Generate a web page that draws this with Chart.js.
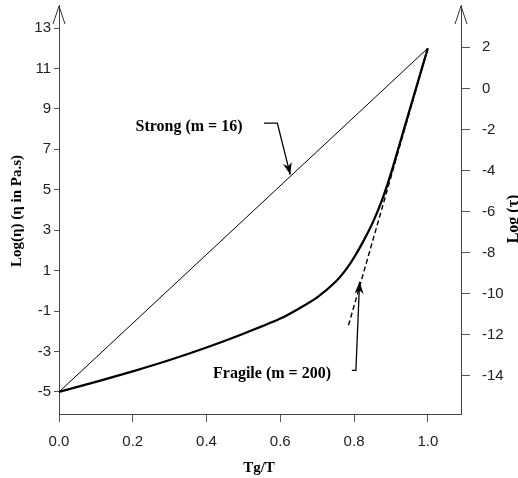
<!DOCTYPE html>
<html>
<head>
<meta charset="utf-8">
<script src="https://cdn.jsdelivr.net/npm/chart.js@4.4.1/dist/chart.umd.min.js"></script>
<style>
  html, body { margin: 0; padding: 0; background: #fff; }
  #wrap { width: 518px; height: 478px; position: relative; }
</style>
</head>
<body>
<div id="wrap"><canvas id="viscosityChart"></canvas></div>
<script>
// Tg/T positions and log(viscosity) values
const tgT = [0, 0.1, 0.2, 0.3, 0.4, 0.5, 0.6, 0.65, 0.7, 0.75, 0.78, 0.8, 0.825, 0.85, 0.875, 0.9, 0.925, 0.95, 0.975, 1.0];
const fragileLogEta = [-5, -4.5, -3.98, -3.42, -2.8, -2.12, -1.37, -0.88, -0.32, 0.45, 1.1, 1.65, 2.45, 3.35, 4.45, 5.8, 7.35, 8.9, 10.45, 12];
const strongX = [0, 1.0];
const strongLogEta = [-5, 12];
const tangentX = [0.785, 1.0];
const tangentLogEta = [-1.7, 12];

const xTicks = [0, 0.2, 0.4, 0.6, 0.8, 1.0];
const leftTicks = [13, 11, 9, 7, 5, 3, 1, -1, -3, -5];
const rightTicks = [2, 0, -2, -4, -6, -8, -10, -12, -14];

const SERIF = '"Liberation Serif", "DejaVu Serif", serif';
const SANS = '"Liberation Sans", Arial, sans-serif';

const toPts = (xs, ys) => xs.map((x, i) => ({ x, y: ys[i] }));

function arrowHead(ctx, x1, y1, x2, y2, len, half) {
  const a = Math.atan2(y2 - y1, x2 - x1);
  ctx.beginPath();
  ctx.moveTo(x2, y2);
  ctx.lineTo(x2 - len * Math.cos(a) + half * Math.sin(a), y2 - len * Math.sin(a) - half * Math.cos(a));
  ctx.lineTo(x2 - len * 0.7 * Math.cos(a), y2 - len * 0.7 * Math.sin(a));
  ctx.lineTo(x2 - len * Math.cos(a) - half * Math.sin(a), y2 - len * Math.sin(a) + half * Math.cos(a));
  ctx.closePath();
  ctx.fill();
}

// fixed scale sizes so the plot box lands where it is in the figure
function fixSize(dim, size) {
  return s => {
    s[dim] = size;
    s.paddingTop = 0;
    s.paddingBottom = 0;
    s.paddingLeft = 0;
    s.paddingRight = 0;
  };
}

const decorations = {
  id: 'decorations',
  afterDraw(chart) {
    const { ctx, chartArea, scales } = chart;
    const xs = scales.x, ys = scales.y;
    const px = v => xs.getPixelForValue(v);
    const py = v => ys.getPixelForValue(v);
    ctx.save();
    ctx.strokeStyle = '#333';
    ctx.lineWidth = 1;

    // open arrow heads on top of both vertical axes
    [chartArea.left, chartArea.right].forEach(ax => {
      ctx.beginPath();
      ctx.moveTo(ax - 6, chartArea.top + 19);
      ctx.lineTo(ax, chartArea.top + 1);
      ctx.lineTo(ax + 6, chartArea.top + 19);
      ctx.stroke();
    });

    // leader for the strong liquid
    ctx.strokeStyle = '#000';
    ctx.fillStyle = '#000';
    ctx.lineWidth = 1.3;
    ctx.beginPath();
    ctx.moveTo(px(0.556), py(8.3));
    ctx.lineTo(px(0.592), py(8.3));
    ctx.lineTo(px(0.627), py(5.75));
    ctx.stroke();
    arrowHead(ctx, px(0.592), py(8.3), px(0.627), py(5.75), 12, 4.5);

    // leader for the fragile liquid
    ctx.beginPath();
    ctx.moveTo(px(0.794), py(-3.93));
    ctx.lineTo(px(0.805), py(-3.93));
    ctx.lineTo(px(0.815), py(0.45));
    ctx.stroke();
    arrowHead(ctx, px(0.805), py(-3.93), px(0.815), py(0.45), 12, 4.5);

    // annotation texts
    ctx.font = 'bold 16px ' + SERIF;
    ctx.textAlign = 'center';
    ctx.textBaseline = 'middle';
    ctx.fillText('Strong (m = 16)', 189, 127);
    ctx.fillText('Fragile (m = 200)', 272, 374);

    // axis titles
    ctx.font = 'bold 15px ' + SERIF;
    ctx.fillText('Tg/T', 259, 468);
    ctx.save();
    ctx.translate(17, 211);
    ctx.rotate(-Math.PI / 2);
    ctx.fillText('Log(\u03B7) (\u03B7 in Pa.s)', 0, 0);
    ctx.restore();
    ctx.save();
    ctx.translate(513.5, 219);
    ctx.rotate(-Math.PI / 2);
    ctx.font = 'bold 16px ' + SERIF;
    ctx.fillText('Log (\u03C4)', 0, 0);
    ctx.restore();
    ctx.restore();
  }
};

const tickFont = { family: SANS, size: 15 };

new Chart(document.getElementById('viscosityChart'), {
  type: 'scatter',
  data: {
    datasets: [
      {
        label: 'Strong',
        data: toPts(strongX, strongLogEta),
        showLine: true,
        borderColor: '#000',
        borderWidth: 1,
        pointRadius: 0
      },
      {
        label: 'Fragile',
        data: toPts(tgT, fragileLogEta),
        showLine: true,
        borderColor: '#000',
        borderWidth: 2.3,
        pointRadius: 0,
        tension: 0.3
      },
      {
        label: 'Tangent',
        data: toPts(tangentX, tangentLogEta),
        showLine: true,
        borderColor: '#000',
        borderWidth: 1.4,
        borderDash: [5, 3],
        pointRadius: 0
      }
    ]
  },
  options: {
    responsive: true,
    maintainAspectRatio: false,
    animation: false,
    layout: { padding: { top: 5, left: 0, right: 0, bottom: 0 } },
    plugins: {
      legend: { display: false },
      tooltip: { enabled: false }
    },
    scales: {
      x: {
        type: 'linear',
        min: 0,
        max: 1.09,
        afterFit: fixSize('height', 64),
        afterBuildTicks: s => { s.ticks = xTicks.map(v => ({ value: v })); },
        grid: { display: true, drawOnChartArea: false, drawTicks: true, tickLength: 8, tickColor: '#555' },
        border: { display: true, color: '#444', width: 1 },
        ticks: { font: tickFont, color: '#222', padding: 11, maxRotation: 0, callback: v => v.toFixed(1) }
      },
      y: {
        type: 'linear',
        position: 'left',
        min: -6.09,
        max: 14.14,
        afterFit: fixSize('width', 59),
        afterBuildTicks: s => { s.ticks = leftTicks.map(v => ({ value: v })); },
        grid: { display: true, drawOnChartArea: false, drawTicks: true, tickLength: 5, tickColor: '#555' },
        border: { display: true, color: '#444', width: 1 },
        ticks: { font: tickFont, color: '#222', padding: 3, callback: v => String(v) }
      },
      y2: {
        type: 'linear',
        position: 'right',
        min: -15.85,
        max: 4.06,
        afterFit: fixSize('width', 57),
        afterBuildTicks: s => { s.ticks = rightTicks.map(v => ({ value: v })); },
        grid: { display: true, drawOnChartArea: false, drawTicks: true, tickLength: 9, tickColor: '#555' },
        border: { display: true, color: '#444', width: 1 },
        ticks: { font: tickFont, color: '#222', padding: 12, callback: v => String(v) }
      }
    }
  },
  plugins: [decorations]
});
</script>
</body>
</html>
